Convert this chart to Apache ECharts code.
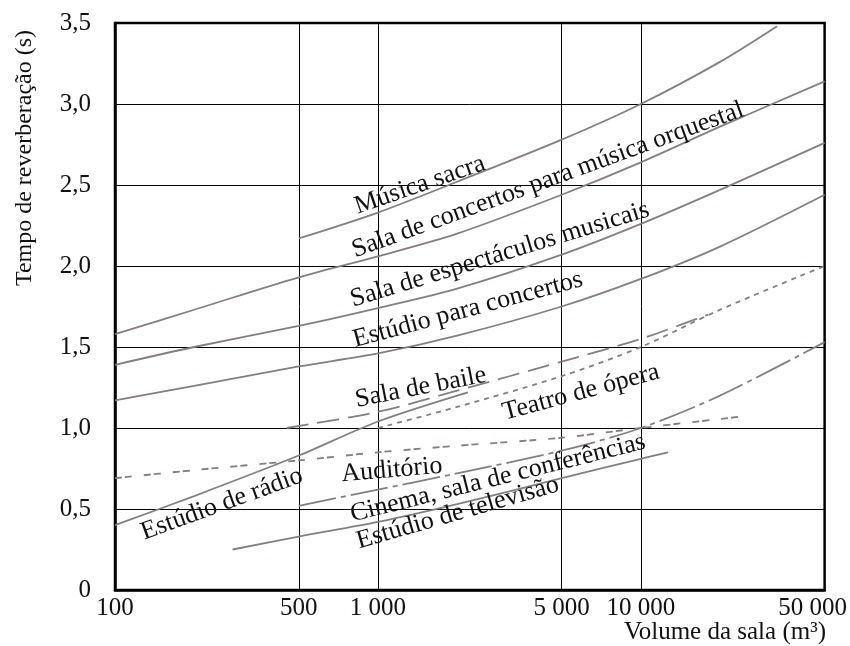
<!DOCTYPE html>
<html>
<head>
<meta charset="utf-8">
<script src="https://cdn.jsdelivr.net/npm/echarts@6/dist/echarts.min.js"></script>
<style>
html,body{margin:0;padding:0;background:#fff;}
#c{width:850px;height:646px;}
</style>
</head>
<body>
<div id="c"></div>
<script>
// ---- data: [volume m3, reverberation time s] ----
const musicaSacra = [[500,2.17],[1000,2.33],[2000,2.52],[5000,2.78],[10000,3.0],[20000,3.26],[33000,3.48]];
const salaConcertos = [[100,1.58],[200,1.73],[500,1.93],[1000,2.06],[2000,2.2],[5000,2.44],[10000,2.64],[20000,2.86],[50000,3.14]];
const salaEspectaculos = [[100,1.39],[200,1.5],[500,1.63],[1000,1.74],[2000,1.86],[5000,2.07],[10000,2.26],[20000,2.47],[50000,2.76]];
const estudioConcertos = [[100,1.17],[200,1.26],[500,1.38],[1000,1.46],[2000,1.57],[5000,1.75],[10000,1.92],[20000,2.12],[50000,2.44]];
const salaBaile = [[450,1.0],[1000,1.1],[2000,1.23],[5000,1.41],[10000,1.55],[18000,1.7]];
const teatroOpera = [[1000,1.0],[2000,1.13],[5000,1.32],[10000,1.5],[20000,1.73],[50000,2.0]];
const auditorio = [[100,0.69],[200,0.74],[500,0.8],[1000,0.85],[2000,0.89],[5000,0.94],[10000,1.0],[24000,1.07]];
const estudioRadio = [[100,0.4],[200,0.58],[500,0.83],[1000,1.04],[2200,1.22]];
const cinema = [[500,0.52],[1000,0.62],[2000,0.72],[5000,0.86],[10000,1.0],[20000,1.2],[50000,1.53]];
const estudioTelevisao = [[280,0.25],[500,0.33],[1000,0.42],[2000,0.53],[5000,0.69],[10000,0.81],[12700,0.85]];

const xTicks = [100, 500, 1000, 5000, 10000, 50000];
const xTickLabels = ['100', '500', '1 000', '5 000', '10 000', '50 000'];

// label anchors (volume, time, angle in degrees)
const curveLabels = [
  ['Música sacra', 1445, 2.50, 19],
  ['Sala de concertos para música orquestal', 4430, 2.53, 20],
  ['Sala de espectáculos musicais', 2910, 2.07, 17],
  ['Estúdio para concertos', 2200, 1.73, 15],
  ['Sala de baile', 1455, 1.25, 11],
  ['Teatro de ópera', 5920, 1.22, 15],
  ['Auditório', 1130, 0.74, 5],
  ['Estúdio de rádio', 255, 0.53, 20],
  ['Cinema, sala de conferências', 2860, 0.69, 14],
  ['Estúdio de televisão', 2010, 0.475, 16]
];

const FONT = "'Liberation Serif','Times New Roman',serif";
const LINE_COLOR = '#877d7f';

function mk(name, data, type) {
  return {
    name: name, type: 'line', data: data, showSymbol: false, smooth: 0.3,
    lineStyle: {color: LINE_COLOR, width: 1.8, type: type || 'solid'},
    silent: true, animation: false, z: 3
  };
}

const chart = echarts.init(document.getElementById('c'), null, {renderer: 'canvas'});
const option = {
  animation: false,
  backgroundColor: '#fff',
  grid: {left: 115, right: 25, top: 23, bottom: 56, show: true, borderColor: '#000', borderWidth: 2.5, backgroundColor: 'transparent'},
  xAxis: {
    type: 'log', logBase: 10, min: 100, max: 50000,
    axisLine: {show: true, lineStyle: {color: '#000', width: 2.5}},
    axisTick: {show: false, customValues: xTicks},
    splitLine: {show: true, lineStyle: {color: '#000', width: 1}},
    axisLabel: {
      customValues: xTicks,
      margin: 6,
      color: '#111', fontFamily: FONT, fontSize: 25,
      formatter: function (v) {
        const i = xTicks.indexOf(Math.round(v));
        const s = i >= 0 ? xTickLabels[i] : String(v);
        return v >= 50000 ? '{r|' + s + '}' : s;
      },
      rich: {r: {fontFamily: FONT, fontSize: 25, color: '#111', padding: [0, 24, 0, 0]}}
    }
  },
  yAxis: {
    type: 'value', min: 0, max: 3.5, interval: 0.5,
    axisLine: {show: true, lineStyle: {color: '#000', width: 2.5}},
    axisTick: {show: false},
    splitLine: {show: true, lineStyle: {color: '#000', width: 1}},
    axisLabel: {
      margin: 24, color: '#111', fontFamily: FONT, fontSize: 25,
      formatter: function (v) { return v === 0 ? '0' : v.toFixed(1).replace('.', ','); }
    }
  },
  series: [
    mk('Música sacra', musicaSacra),
    mk('Sala de concertos para música orquestal', salaConcertos),
    mk('Sala de espectáculos musicais', salaEspectaculos),
    mk('Estúdio para concertos', estudioConcertos),
    mk('Sala de baile', salaBaile, [22, 9]),
    mk('Teatro de ópera', teatroOpera, [5, 5]),
    mk('Auditório', auditorio, [7, 3, 7, 12]),
    mk('Estúdio de rádio', estudioRadio),
    mk('Cinema, sala de conferências', cinema, [38, 5, 5, 5]),
    mk('Estúdio de televisão', estudioTelevisao)
  ]
};
chart.setOption(option);

const graphics = [
  {type: 'text', x: 25, y: 158, rotation: Math.PI / 2, z: 10,
   style: {text: 'Tempo de reverberação (s)', font: '24px ' + FONT, fill: '#111', textAlign: 'center', textVerticalAlign: 'middle'}},
  {type: 'text', x: 826, y: 632, z: 10,
   style: {text: 'Volume da sala (m³)', font: '25px ' + FONT, fill: '#111', textAlign: 'right', textVerticalAlign: 'middle'}}
];
curveLabels.forEach(function (l) {
  const p = chart.convertToPixel({gridIndex: 0}, [l[1], l[2]]);
  graphics.push({type: 'text', x: p[0], y: p[1], rotation: l[3] * Math.PI / 180, z: 10,
    style: {text: l[0], font: '26px ' + FONT, fill: '#111', textAlign: 'center', textVerticalAlign: 'middle'}});
});
chart.setOption({graphic: graphics});
</script>
</body>
</html>
